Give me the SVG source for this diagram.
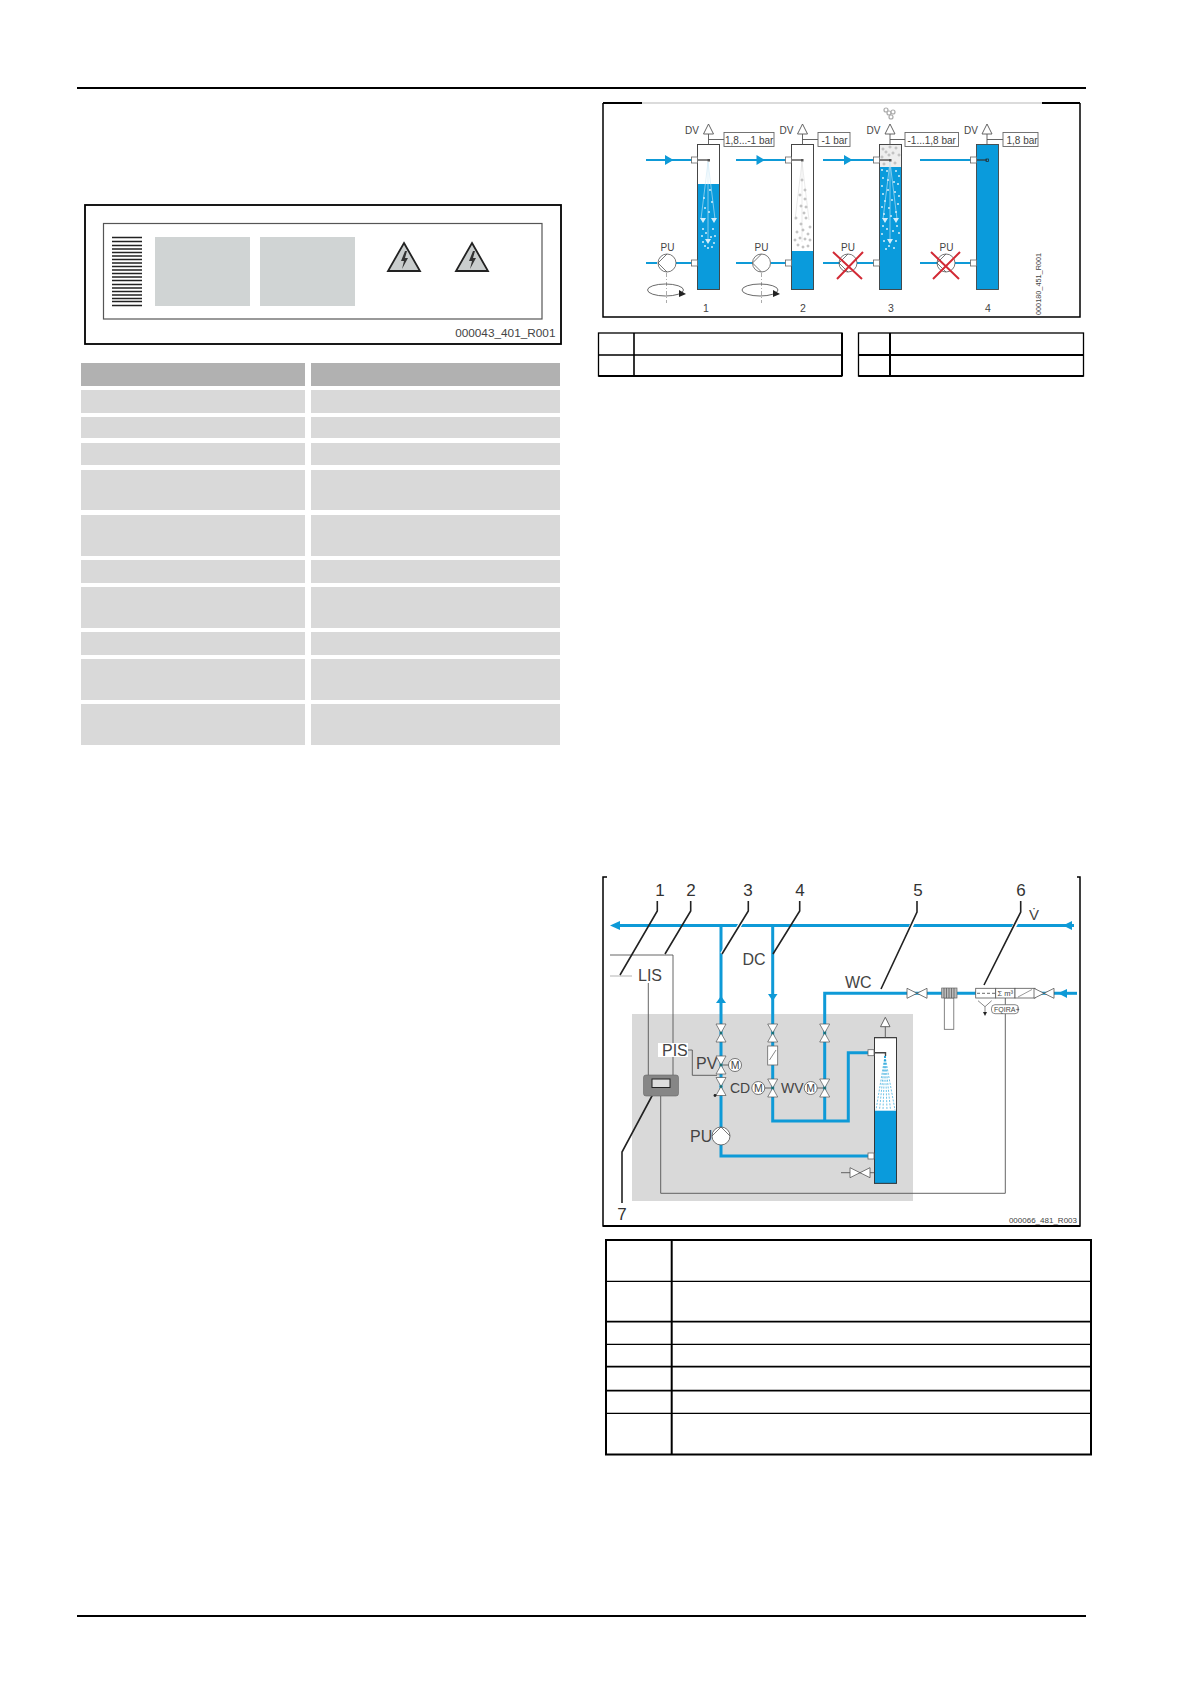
<svg xmlns="http://www.w3.org/2000/svg" width="1191" height="1685" viewBox="0 0 1191 1685">
<style>
text{font-family:"Liberation Sans",Arial,sans-serif;fill:#444}
.lbl{font-size:16px}
.sm{font-size:14px}
.tag{font-size:10px}
.num{font-size:10.5px;text-anchor:middle}
.big{font-size:17px;text-anchor:middle;fill:#333}
.frame{fill:none;stroke:#000;stroke-width:1.5}
.thick{stroke:#000;stroke-width:2.5;fill:none}
.thin{stroke:#000;stroke-width:1.3;fill:none}
.hdr{fill:#b1b1b1}
.row{fill:#d9d9d9}
.pipe{fill:none;stroke:#0e9ad7;stroke-width:3}
.pipe2{fill:none;stroke:#0e9ad7;stroke-width:2.2}
.wire{fill:none;stroke:#555;stroke-width:.9}
.lead{fill:none;stroke:#222;stroke-width:1.6}
.halo{fill:none;stroke:#fff;stroke-width:4}
.tank{fill:#fff;stroke:#555;stroke-width:1}
.water{fill:#0a9bdc}
.hw{fill:#fff;stroke:#555;stroke-width:.8}
.cross{stroke:#d22a35;stroke-width:2;fill:none}
.ab{fill:#0e9ad7}
.wb{fill:#d5eefa}
.gb{fill:#fff;stroke:#999;stroke-width:.7}
.spray{fill:none;stroke:#cfe9f6;stroke-width:.6}
.spray2{fill:none;stroke:#0e9ad7;stroke-width:.6;stroke-dasharray:2 1.4}
</style>
<defs>
<g id="vv"><path d="M-5-9H5L-5 9H5Z" fill="#fff" stroke="#555" stroke-width=".7"/><circle r="1.2" fill="#1a6f6f"/></g>
<g id="vh"><path d="M-10-5V5L10-5V5Z" fill="#fff" stroke="#555" stroke-width=".8"/></g>
<g id="m"><circle r="6.5" fill="#fff" stroke="#555" stroke-width=".8"/><text y="3.8" font-size="10.5" text-anchor="middle">M</text></g>
<g id="pumpf"><circle r="9" fill="#fff" stroke="#555" stroke-width=".8"/><path d="M0-9L-9 0L0 9" fill="none" stroke="#555" stroke-width=".8"/></g>
<g id="port"><rect x="-3" y="-3" width="6" height="6" fill="#fff" stroke="#666" stroke-width=".8"/></g>
<g id="dv"><path d="M0-10L5 0H-5Z" fill="#fff" stroke="#555" stroke-width=".9"/><path d="M0 0V10.5" stroke="#555" stroke-width=".9"/></g>
<path id="ar" d="M0-5L8.500 0L0 5Z" fill="#0e9ad7"/>
<g id="tri"><path d="M0-28L16 0H-16Z" fill="#c9cdcd" stroke="#222" stroke-width="1.8"/><path d="M1-20L-3-10L0-10L-2-2L4-13L1-13L3-20Z" fill="#333"/></g>
</defs>

<g id="page-rules">
<path d="M77 88H1086" stroke="#000" stroke-width="2" fill="none"/>
<path d="M77 1616H1086" stroke="#000" stroke-width="2" fill="none"/>
</g>

<g id="label-figure">
<rect x="85" y="205" width="476" height="139" fill="#fff" stroke="#000" stroke-width="1.8"/>
<rect x="103.500" y="223.500" width="438.500" height="95.500" fill="#fff" stroke="#555" stroke-width="1.2"/>
<path d="M112 237.500H142M112 241.500H142M112 245.500H142M112 249H142M112 252.500H142M112 256H142M112 259.500H142M112 263H142M112 266.500H142M112 270H142M112 273.500H142M112 277H142M112 280.500H142M112 284.500H142M112 288H142M112 291.500H142M112 295H142M112 298.500H142M112 301.500H142M112 305.500H142" stroke="#222" stroke-width="1.3" fill="none"/>
<rect x="155" y="237" width="95" height="69" fill="#d0d4d4"/>
<rect x="260" y="237" width="95" height="69" fill="#d0d4d4"/>
<use href="#tri" transform="translate(404 271)"/>
<use href="#tri" transform="translate(472 271)"/>
<text x="555.500" y="337" font-size="11.800" text-anchor="end">000043_401_R001</text>
</g>

<g id="data-table">
<rect class="hdr" x="81" y="363" width="224" height="23"/><rect class="hdr" x="311" y="363" width="249" height="23"/>
<rect class="row" x="81" y="390" width="224" height="23"/><rect class="row" x="311" y="390" width="249" height="23"/>
<rect class="row" x="81" y="417" width="224" height="21"/><rect class="row" x="311" y="417" width="249" height="21"/>
<rect class="row" x="81" y="443" width="224" height="22"/><rect class="row" x="311" y="443" width="249" height="22"/>
<rect class="row" x="81" y="470" width="224" height="40"/><rect class="row" x="311" y="470" width="249" height="40"/>
<rect class="row" x="81" y="515" width="224" height="41"/><rect class="row" x="311" y="515" width="249" height="41"/>
<rect class="row" x="81" y="560" width="224" height="23"/><rect class="row" x="311" y="560" width="249" height="23"/>
<rect class="row" x="81" y="587" width="224" height="41"/><rect class="row" x="311" y="587" width="249" height="41"/>
<rect class="row" x="81" y="632" width="224" height="23"/><rect class="row" x="311" y="632" width="249" height="23"/>
<rect class="row" x="81" y="659" width="224" height="41"/><rect class="row" x="311" y="659" width="249" height="41"/>
<rect class="row" x="81" y="704" width="224" height="41"/><rect class="row" x="311" y="704" width="249" height="41"/>
</g>

<g id="stages-frame">
<path d="M603 103V317H1080V103" class="frame"/>
<path d="M603 103H642M1042 103H1080" class="thick" style="stroke-width:1.8"/>
<path d="M642 103H1042" stroke="#999" stroke-width=".7" fill="none"/>
<text transform="translate(1041 315) rotate(-90)" font-size="7.300">000180_451_R001</text>
</g>

<g id="stages-connectors">
<path class="pipe2" d="M646 160H694M646 263H657M676 263H694"/>
<path class="pipe2" d="M736 160H789M736 263H752M771 263H789"/>
<path class="pipe2" d="M823 160H877M823 263H839M857 263H877"/>
<path class="pipe2" d="M920 160H973M920 263H937M955 263H973"/>
<use href="#ar" transform="translate(665 160)"/>
<use href="#ar" transform="translate(756.500 160)"/>
<use href="#ar" transform="translate(844 160)"/>
</g>

<g id="stage-1">
<rect class="tank" x="697.500" y="144.500" width="22" height="145"/>
<rect class="water" x="697.500" y="184" width="22" height="105.500"/>
<rect x="697.500" y="144.500" width="22" height="145" fill="none" stroke="#444" stroke-width=".9"/>
<path class="spray" d="M708 162L701 219M708 162L715 219M708 162L708 240"/>
<path d="M700 218l6 0l-3 5ZM711 218l6 0l-3 5ZM705 239l6 0l-3 5Z" fill="#d5eefa"/>
<g class="wb"><circle cx="710" cy="190" r="1"/><circle cx="704" cy="198" r="1"/><circle cx="712" cy="202" r="1"/><circle cx="705" cy="208" r="1"/><circle cx="709" cy="212" r="1"/><circle cx="703" cy="229" r="1"/><circle cx="713" cy="229" r="1"/><circle cx="706" cy="233" r="1"/><circle cx="715" cy="236" r="1"/><circle cx="702" cy="236" r="1"/><circle cx="711" cy="237" r="1"/><circle cx="703" cy="242" r="1"/><circle cx="714" cy="243" r="1"/><circle cx="708" cy="248" r="1"/><circle cx="705" cy="246" r="1"/><circle cx="712" cy="247" r="1"/></g>
<path d="M697 160H708" stroke="#333" stroke-width="1.200"/><rect x="707.500" y="159" width="2.500" height="2.500" fill="#555"/>
<use href="#port" transform="translate(694.500 160)"/><use href="#port" transform="translate(694.500 263)"/>
<use href="#dv" transform="translate(708.500 134)"/>
<path d="M708.500 139.500H724" stroke="#555" stroke-width=".9"/>
<rect x="724" y="132.500" width="50" height="14" fill="#fff" stroke="#666" stroke-width=".9"/>
<text class="tag" x="725" y="143.500">1,8...-1 bar</text>
<text class="tag" x="685" y="133.500">DV</text>
<text class="tag" x="660.500" y="250.500">PU</text>
<use href="#pumpf" transform="translate(667 263)"/>
<path d="M666.500 273V303" stroke="#888" stroke-width=".7" stroke-dasharray="4 2 1 2"/>
<ellipse cx="665.500" cy="290" rx="18" ry="6" fill="none" stroke="#444" stroke-width=".8"/>
<path d="M679 290L686 294L679 297Z" fill="#222"/>
<text class="num" x="706" y="312">1</text>
</g>

<g id="stage-2">
<rect class="tank" x="791.500" y="144.500" width="22" height="145"/>
<rect class="water" x="791.500" y="251" width="22" height="38.500"/>
<rect x="791.500" y="144.500" width="22" height="145" fill="none" stroke="#444" stroke-width=".9"/>
<path d="M802 162L795 220M802 162L809 220M802 162L802 242" fill="none" stroke="#ddd" stroke-width=".6"/>
<g class="gb"><circle cx="802" cy="180" r="1"/><circle cx="805" cy="190" r="1"/><circle cx="800" cy="195" r="1"/><circle cx="805" cy="199" r="1"/><circle cx="801" cy="206" r="1"/><circle cx="806" cy="207" r="1"/><circle cx="804" cy="213" r="1"/><circle cx="796" cy="218" r="1"/><circle cx="806" cy="218" r="1"/><circle cx="801" cy="224" r="1"/><circle cx="810" cy="227" r="1"/><circle cx="803" cy="230" r="1"/><circle cx="797" cy="232" r="1"/><circle cx="808" cy="234" r="1"/><circle cx="795" cy="240" r="1"/><circle cx="800" cy="238" r="1"/><circle cx="805" cy="239" r="1"/><circle cx="810" cy="240" r="1"/><circle cx="798" cy="245" r="1"/><circle cx="803" cy="247" r="1"/><circle cx="808" cy="246" r="1"/></g>
<path d="M791 160H802" stroke="#333" stroke-width="1.200"/><rect x="801" y="159" width="2.500" height="2.500" fill="#555"/>
<use href="#port" transform="translate(788.500 160)"/><use href="#port" transform="translate(788.500 263)"/>
<use href="#dv" transform="translate(802.500 134)"/>
<path d="M802.500 139.500H818" stroke="#555" stroke-width=".9"/>
<rect x="818" y="132.500" width="32" height="14" fill="#fff" stroke="#666" stroke-width=".9"/>
<text class="tag" x="821.500" y="143.500">-1 bar</text>
<text class="tag" x="779.500" y="133.500">DV</text>
<text class="tag" x="754.500" y="250.500">PU</text>
<use href="#pumpf" transform="translate(761.500 263)"/>
<path d="M761.500 273V303" stroke="#888" stroke-width=".7" stroke-dasharray="4 2 1 2"/>
<ellipse cx="760" cy="290" rx="18" ry="6" fill="none" stroke="#444" stroke-width=".8"/>
<path d="M773 290L780 294L773 297Z" fill="#222"/>
<text class="num" x="803" y="312">2</text>
</g>

<g id="stage-3">
<rect x="879.500" y="144.500" width="22" height="145" fill="#eee" stroke="#555" stroke-width=".9"/>
<rect class="water" x="879.500" y="167" width="22" height="122.500"/>
<rect x="879.500" y="144.500" width="22" height="145" fill="none" stroke="#444" stroke-width=".9"/>
<path class="spray" d="M890 162L883 219M890 162L897 219M890 162L890 240"/>
<path d="M882 218l6 0l-3 5ZM893 218l6 0l-3 5ZM887 239l6 0l-3 5Z" fill="#d5eefa"/>
<g class="gb"><circle cx="883" cy="149" r="1"/><circle cx="890" cy="147" r="1"/><circle cx="896" cy="148" r="1"/><circle cx="886" cy="152" r="1"/><circle cx="893" cy="153" r="1"/><circle cx="899" cy="155" r="1"/><circle cx="882" cy="157" r="1"/><circle cx="889" cy="155" r="1"/><circle cx="895" cy="163" r="1"/><circle cx="884" cy="164" r="1"/></g>
<g class="wb"><circle cx="882" cy="170" r="1"/><circle cx="887" cy="171" r="1"/><circle cx="896" cy="171" r="1"/><circle cx="899" cy="176" r="1"/><circle cx="883" cy="178" r="1"/><circle cx="888" cy="180" r="1"/><circle cx="894" cy="182" r="1"/><circle cx="882" cy="186" r="1"/><circle cx="898" cy="184" r="1"/><circle cx="888" cy="190" r="1"/><circle cx="895" cy="192" r="1"/><circle cx="883" cy="194" r="1"/><circle cx="899" cy="196" r="1"/><circle cx="885" cy="201" r="1"/><circle cx="892" cy="200" r="1"/><circle cx="898" cy="204" r="1"/><circle cx="882" cy="207" r="1"/><circle cx="889" cy="208" r="1"/><circle cx="896" cy="212" r="1"/><circle cx="884" cy="214" r="1"/><circle cx="891" cy="216" r="1"/><circle cx="883" cy="226" r="1"/><circle cx="897" cy="226" r="1"/><circle cx="887" cy="229" r="1"/><circle cx="893" cy="231" r="1"/><circle cx="899" cy="233" r="1"/><circle cx="882" cy="234" r="1"/><circle cx="884" cy="241" r="1"/><circle cx="896" cy="241" r="1"/><circle cx="889" cy="246" r="1"/><circle cx="894" cy="248" r="1"/><circle cx="886" cy="249" r="1"/></g>
<path d="M879 160H890" stroke="#333" stroke-width="1.200"/><rect x="889" y="159" width="2.500" height="2.500" fill="#555"/>
<use href="#port" transform="translate(876.500 160)"/><use href="#port" transform="translate(876.500 263)"/>
<use href="#dv" transform="translate(890 134)"/>
<path d="M890 139.500H905" stroke="#555" stroke-width=".9"/>
<rect x="905" y="132.500" width="53.500" height="14" fill="#fff" stroke="#666" stroke-width=".9"/>
<text class="tag" x="907.500" y="143.500">-1...1,8 bar</text>
<text class="tag" x="866.500" y="133.500">DV</text>
<text class="tag" x="841" y="250.500">PU</text>
<use href="#pumpf" transform="translate(848 263)"/>
<path class="cross" d="M833 252L862 279M863 252L837 279"/>
<g fill="#fff" stroke="#aaa" stroke-width="1.200"><circle cx="886" cy="110" r="2"/><circle cx="889" cy="113" r="2"/><circle cx="893" cy="112" r="2"/><circle cx="891" cy="117" r="2"/></g>
<text class="num" x="891" y="312">3</text>
</g>

<g id="stage-4">
<rect class="water" x="976.500" y="144.500" width="22" height="145" stroke="#444" stroke-width=".9"/>
<path d="M976 160H987" stroke="#333" stroke-width="1.200"/><rect x="986" y="159" width="2.500" height="2.500" fill="none" stroke="#222" stroke-width=".7"/>
<use href="#port" transform="translate(973.500 160)"/><use href="#port" transform="translate(973.500 263)"/>
<use href="#dv" transform="translate(987 134)"/>
<path d="M987 139.500H1003" stroke="#555" stroke-width=".9"/>
<rect x="1003" y="132.500" width="35" height="14" fill="#fff" stroke="#666" stroke-width=".9"/>
<text class="tag" x="1006.500" y="143.500">1,8 bar</text>
<text class="tag" x="964" y="133.500">DV</text>
<text class="tag" x="939.500" y="250.500">PU</text>
<use href="#pumpf" transform="translate(946 263)"/>
<path class="cross" d="M933 279L960 252M931 252L959 279"/>
<text class="num" x="988" y="312">4</text>
</g>

<g id="stage-legend">
<rect x="598.500" y="333" width="243.500" height="43" class="thin"/>
<path d="M634 333V376M598.500 355H842" class="thick" style="stroke-width:1.6"/>
<path d="M598.500 376H842M842 333V376" class="thick" style="stroke-width:2"/>
<rect x="858.500" y="333" width="225" height="43" class="thin"/>
<path d="M890 333V376M858.500 355H1083.500M858.500 376H1083.500" class="thick" style="stroke-width:2"/>
</g>

<g id="schematic-frame">
<path d="M607 877H603V1226H1080V877H1077" class="frame"/>
<path d="M603 1226H1080" class="thick" style="stroke-width:2"/>
<rect x="632" y="1014" width="281" height="187" fill="#d9d9d9"/>
<text x="1077" y="1223" font-size="8" text-anchor="end">000066_481_R003</text>
</g>

<g id="schematic-connectors">
<path class="pipe" d="M616 925.500H1074"/>
<path class="pipe" d="M721 925.500V1156H868"/>
<path class="pipe" d="M772.700 925.500V1121H848.300V1052.700H868"/>
<path class="pipe" d="M824.700 1121V993.300H1062"/>
<path class="pipe" d="M1062 993.300H1077"/>
<path d="M610 925.500L620 921V930Z" class="ab"/>
<path d="M1063 925.500L1072 921V930Z" class="ab"/>
<path d="M1058 993.300L1067 989V998Z" class="ab"/>
<path d="M721 996L726 1003H716Z" class="ab"/>
<path d="M772.700 1001L768 994H777.500Z" class="ab"/>
<path class="wire" d="M610 955H673V1075"/>
<path class="wire" d="M610 976H632" style="stroke:#aaa"/>
<path class="wire" d="M648.300 983V1075"/>
<path class="wire" d="M688 1050H692.300V1075.300H717"/>
<path class="wire" d="M660.700 1096V1193.300H1005.300V1013.500"/>
<path class="wire" d="M1005.300 1004.700V998"/>
<path class="wire" d="M841 1172.700H874"/>
<path class="wire" d="M721 1065H729M764 1088H772M817 1088H825"/>
<g id="leader-lines">
<path class="lead" d="M657.300 901V911L620 975"/>
<path class="lead" d="M690.700 901V911L665 954"/>
<path class="halo" d="M748.300 911L722 954"/><path class="lead" d="M748.300 901V911L722 954"/>
<path class="lead" d="M799.700 901V911L773 954"/>
<path class="halo" d="M917 914L881 989"/><path class="lead" d="M917 901V912L881 989"/>
<path class="halo" d="M1020.700 914L984 985"/><path class="lead" d="M1020.700 901V912L984 985"/>
<path class="lead" d="M653 1094L622 1152V1203"/>
</g>
</g>

<g id="callouts">
<text class="big" x="660" y="896">1</text>
<text class="big" x="691" y="896">2</text>
<text class="big" x="748" y="896">3</text>
<text class="big" x="800" y="896">4</text>
<text class="big" x="918" y="896">5</text>
<text class="big" x="1021" y="896">6</text>
<text class="big" x="622" y="1220">7</text>
</g>

<g id="controller">
<rect x="643.500" y="1075" width="35" height="21" rx="2.500" fill="#868686" stroke="#666" stroke-width=".6"/>
<rect x="652" y="1079" width="18" height="8.500" fill="#ddd" stroke="#222" stroke-width="1"/>
</g>
<g id="labels">
<rect x="658" y="1043" width="30" height="14" fill="#fff"/>
<text class="lbl" x="638" y="981">LIS</text>
<text class="lbl" x="662" y="1056">PIS</text>
<text class="lbl" x="696" y="1069">PV</text>
<text class="sm" x="730" y="1093">CD</text>
<text class="sm" x="781" y="1093">WV</text>
<text class="lbl" x="690" y="1142">PU</text>
<text class="lbl" x="742.500" y="965">DC</text>
<text class="lbl" x="845" y="988">WC</text>
<text font-size="15" x="1029" y="920">V&#x307;</text>
</g>

<g id="pv-valves">
<use href="#vv" x="721" y="1033"/>
<use href="#vv" x="721" y="1065"/>
<use href="#vv" x="721" y="1086.500"/>
<circle cx="715" cy="1095.500" r="1.400" fill="#222"/>
<use href="#m" x="735" y="1065"/>
<use href="#m" x="758.300" y="1088"/>
<use href="#m" x="810.700" y="1088"/>
</g>
<g id="dc-valves">
<use href="#vv" x="772.700" y="1033"/>
<rect x="767.700" y="1046" width="10" height="19" fill="#fff" stroke="#666" stroke-width=".8"/>
<path d="M769.500 1060L776 1050" stroke="#555" stroke-width=".7"/>
<use href="#vv" x="772.700" y="1088"/>
</g>
<g id="wc-valves">
<use href="#vv" x="824.700" y="1033"/>
<use href="#vv" x="824.700" y="1088"/>
</g>
<g id="pump-pu">
<use href="#pumpf" transform="translate(721 1136) rotate(90)"/>
</g>

<g id="vessel">
<rect x="874.500" y="1037.700" width="22" height="145.600" fill="#fff" stroke="#444" stroke-width=".9"/>
<rect class="water" x="874.500" y="1110.700" width="22" height="72.600"/>
<rect x="874.500" y="1037.700" width="22" height="145.600" fill="none" stroke="#333" stroke-width=".9"/>
<path class="spray2" d="M885 1056L876 1110M885 1056L879.500 1110M885 1056L883 1110M885 1056L887 1110M885 1056L890.500 1110M885 1056L895 1110"/>
<path d="M874 1052.700H885.500V1056" stroke="#444" stroke-width="1.400" fill="none"/>
<use href="#port" x="871" y="1052.700"/>
<use href="#port" x="871" y="1156"/>
<path d="M885.300 1017.300L890 1026.700H880.500Z" fill="#fff" stroke="#555" stroke-width=".9"/>
<path d="M885.300 1026.700V1037.700" stroke="#555" stroke-width=".9"/>
<use href="#vh" x="860" y="1172.700"/>
</g>

<g id="make-up-line">
<use href="#vh" x="917" y="993.300"/>
<rect x="944.300" y="998" width="9.500" height="31.300" fill="#fff" stroke="#666" stroke-width=".8"/>
<rect x="941.700" y="988" width="15.300" height="10" fill="#bbb" stroke="#666" stroke-width=".7"/>
<path d="M944 988V998M946.500 988V998M949 988V998M951.500 988V998M954 988V998" stroke="#555" stroke-width=".7"/>
<rect x="975.700" y="988.300" width="20" height="9.700" fill="#fff" stroke="#555" stroke-width=".8"/>
<path d="M977 993.300H995" stroke="#444" stroke-width=".8" stroke-dasharray="3 2"/>
<rect x="995.700" y="988.300" width="19.300" height="9.700" fill="#fff" stroke="#555" stroke-width=".8"/>
<text font-size="7.500" x="997.500" y="996">Σ m³</text>
<rect x="1015" y="988.300" width="20" height="9.700" fill="#fff" stroke="#555" stroke-width=".8"/>
<path d="M1018 997L1032 989.500" stroke="#555" stroke-width=".6"/>
<use href="#vh" x="1044" y="993.300"/>
<path d="M978 1000.700L985 1006.700L991.700 1000.700M985 1006.700V1013" fill="none" stroke="#555" stroke-width=".7"/>
<path d="M983 1012H987L985 1016Z" fill="#222"/>
<rect x="991.500" y="1004.700" width="27" height="9" rx="3.500" fill="#fff" stroke="#555" stroke-width=".7"/>
<text font-size="7" x="994" y="1012">FQIRA+</text>
</g>

<g id="schematic-legend">
<rect x="606" y="1240" width="485" height="214.500" class="thick" style="stroke-width:2"/>
<path d="M671.700 1240V1454.500" class="thick" style="stroke-width:2"/>
<path d="M606 1281.300H1091M606 1344.300H1091M606 1413.300H1091" class="thin"/>
<path d="M606 1321.700H1091M606 1366.700H1091M606 1390.700H1091" class="thick" style="stroke-width:1.8"/>
</g>
</svg>
